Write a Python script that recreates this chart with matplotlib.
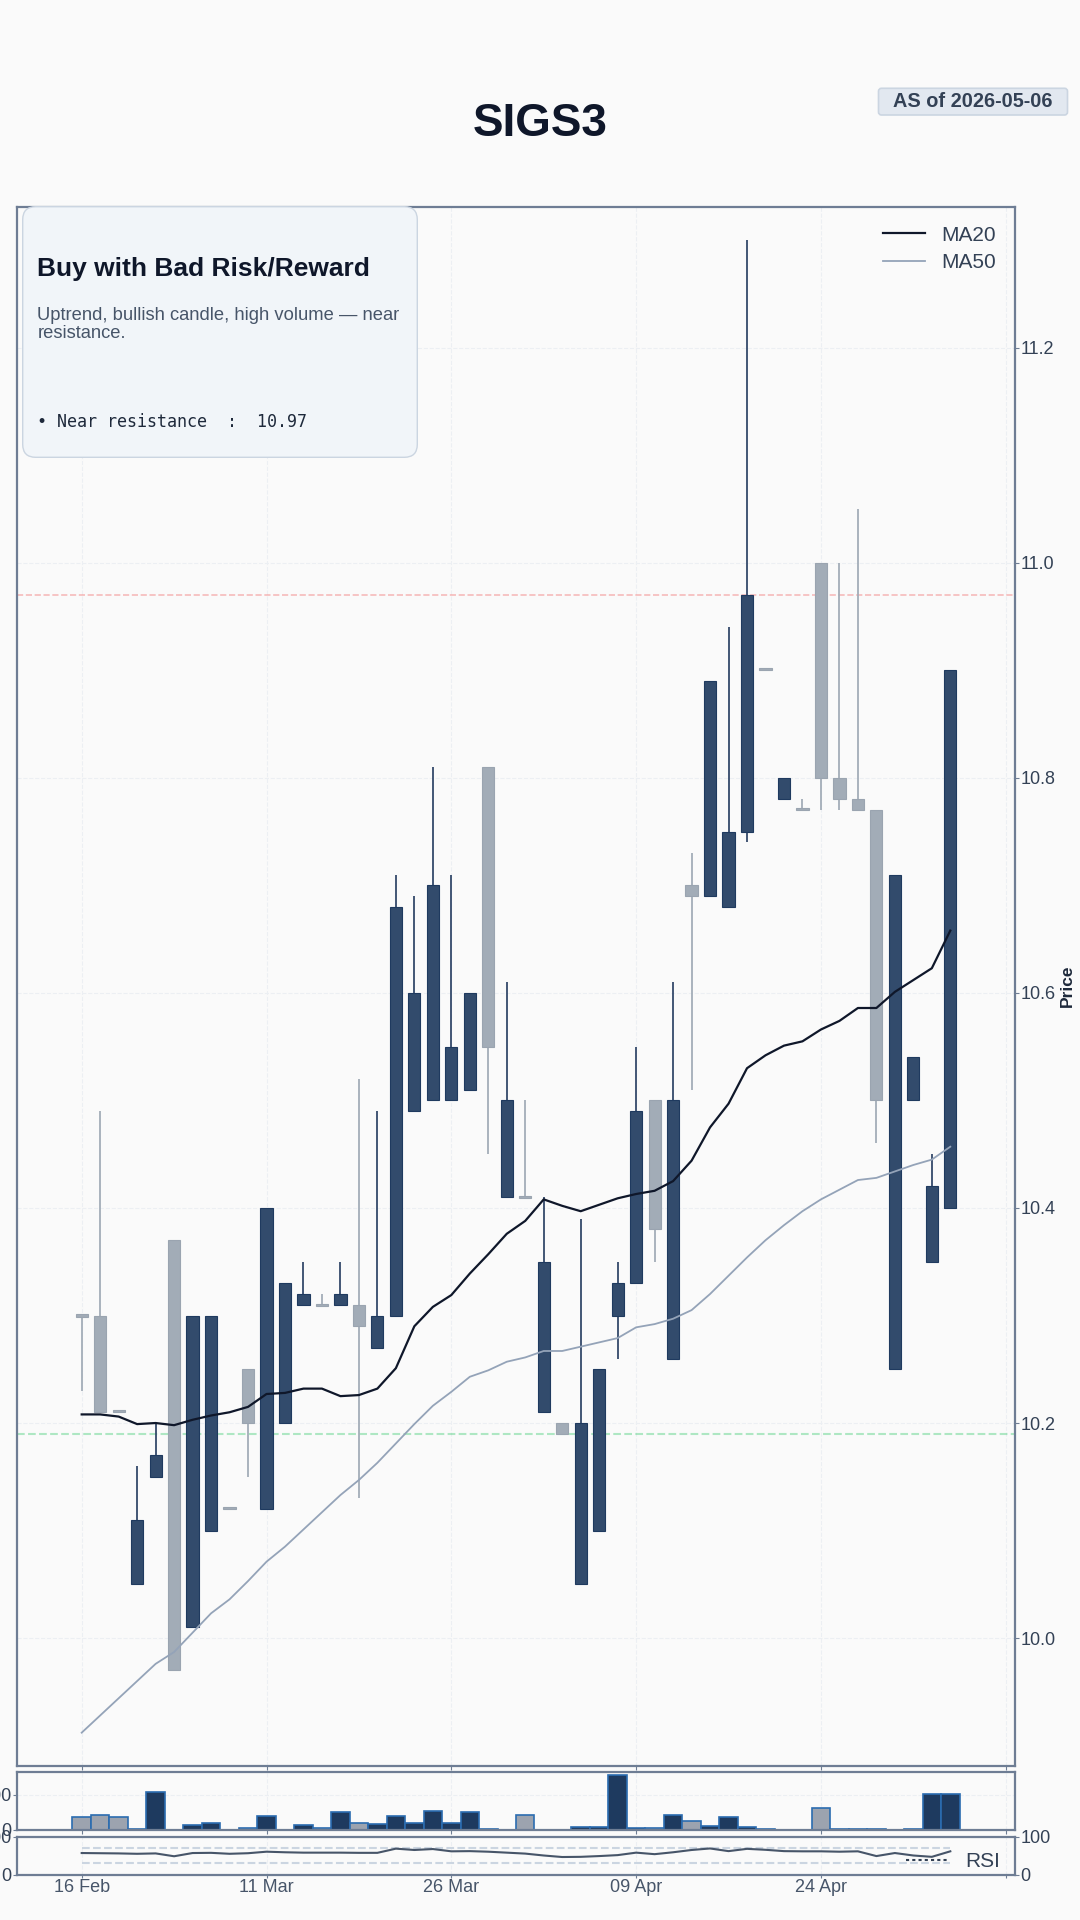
import matplotlib
matplotlib.use('Agg')
import matplotlib.pyplot as plt
from matplotlib.patches import Rectangle, FancyBboxPatch
from matplotlib.lines import Line2D
from matplotlib.transforms import IdentityTransform

plt.rcParams['font.family'] = ['Liberation Sans', 'DejaVu Sans']

# ---------------- data ----------------
ticker = 'SIGS3'
as_of = 'AS of 2026-05-06'
tick_pos = [0, 10, 20, 30, 40, 50]
tick_labels = ['16 Feb', '11 Mar', '26 Mar', '09 Apr', '24 Apr', '']

opens = [10.301, 10.30, 10.212, 10.05, 10.15, 10.37, 10.01, 10.10, 10.121, 10.25,
         10.12, 10.20, 10.31, 10.311, 10.31, 10.31, 10.27, 10.30, 10.49, 10.50,
         10.50, 10.51, 10.81, 10.41, 10.411, 10.21, 10.20, 10.05, 10.10, 10.30,
         10.33, 10.50, 10.26, 10.70, 10.69, 10.68, 10.75, 10.901, 10.78, 10.771,
         11.00, 10.80, 10.78, 10.77, 10.25, 10.50, 10.35, 10.40]
highs = [10.30, 10.49, 10.212, 10.16, 10.20, 10.37, 10.30, 10.30, 10.121, 10.25,
         10.40, 10.33, 10.35, 10.32, 10.35, 10.52, 10.49, 10.71, 10.69, 10.81,
         10.71, 10.60, 10.81, 10.61, 10.50, 10.41, 10.20, 10.39, 10.25, 10.35,
         10.55, 10.50, 10.61, 10.73, 10.89, 10.94, 11.30, 10.901, 10.80, 10.78,
         11.00, 11.00, 11.05, 10.77, 10.71, 10.54, 10.45, 10.90]
lows = [10.23, 10.21, 10.21, 10.05, 10.15, 9.97, 10.01, 10.10, 10.12, 10.15,
        10.12, 10.20, 10.31, 10.309, 10.31, 10.13, 10.27, 10.30, 10.49, 10.50,
        10.50, 10.51, 10.45, 10.41, 10.409, 10.21, 10.19, 10.05, 10.10, 10.26,
        10.33, 10.35, 10.26, 10.51, 10.69, 10.68, 10.74, 10.90, 10.78, 10.77,
        10.77, 10.77, 10.77, 10.46, 10.25, 10.50, 10.35, 10.40]
closes = [10.299, 10.21, 10.21, 10.11, 10.17, 9.97, 10.30, 10.30, 10.12, 10.20,
          10.40, 10.33, 10.32, 10.309, 10.32, 10.29, 10.30, 10.68, 10.60, 10.70,
          10.55, 10.60, 10.55, 10.50, 10.409, 10.35, 10.19, 10.20, 10.25, 10.33,
          10.49, 10.38, 10.50, 10.69, 10.89, 10.75, 10.97, 10.90, 10.80, 10.77,
          10.80, 10.78, 10.77, 10.50, 10.71, 10.54, 10.42, 10.90]
volumes = [36.6, 43.2, 36.6, 3.0, 109.5, 0, 14.4, 21.0, 0, 5.8,
           40.3, 0, 14.4, 5.8, 51.9, 21.0, 17.3, 40.3, 21.0, 54.8,
           21.0, 51.9, 3.0, 0, 43.2, 0, 0, 8.6, 8.6, 155.6,
           4.8, 4.8, 43.2, 26.0, 11.5, 37.5, 8.6, 3.0, 0, 0,
           63.4, 3.0, 3.0, 3.0, 0, 3.0, 101.7, 101.7]
ma20 = [10.208, 10.208, 10.206, 10.199, 10.200, 10.198, 10.203, 10.207, 10.210, 10.215,
        10.227, 10.228, 10.232, 10.232, 10.225, 10.226, 10.232, 10.251, 10.290, 10.308,
        10.319, 10.339, 10.357, 10.376, 10.388, 10.408, 10.402, 10.397, 10.403, 10.409,
        10.413, 10.416, 10.425, 10.444, 10.475, 10.497, 10.530, 10.542, 10.551, 10.555,
        10.566, 10.574, 10.586, 10.586, 10.601, 10.612, 10.623, 10.658]
ma50 = [9.912, 9.928, 9.944, 9.960, 9.976, 9.987, 10.005, 10.023, 10.036, 10.053,
        10.071, 10.085, 10.101, 10.117, 10.133, 10.147, 10.163, 10.181, 10.199, 10.216,
        10.229, 10.243, 10.249, 10.257, 10.261, 10.267, 10.267, 10.271, 10.275, 10.279,
        10.289, 10.292, 10.297, 10.305, 10.320, 10.337, 10.354, 10.370, 10.384, 10.397,
        10.408, 10.417, 10.426, 10.428, 10.434, 10.440, 10.445, 10.457]
rsi = [56.5, 56, 55.5, 54.5, 55.5, 48, 56.5, 57, 54.5, 56,
       60, 58.5, 57.5, 57.5, 57.5, 57, 57, 68, 64.5, 67,
       61, 61.5, 60, 57.5, 55, 50, 46, 46.5, 48.5, 51,
       57.5, 53.5, 58.5, 64.5, 68.5, 61.5, 67.5, 65, 61.5, 61,
       61, 60, 61, 48.5, 56.5, 50, 46.5, 61]
resistance = 10.97
support = 10.19
price_ticks = [10.0, 10.2, 10.4, 10.6, 10.8, 11.0, 11.2]
vol_ticks = [0, 100]
rsi_ticks = [0, 100]
rsi_levels = [70, 30]

card_title = 'Buy with Bad Risk/Reward'
card_lines = ['Uptrend, bullish candle, high volume \u2014 near', 'resistance.']
card_bullet = '\u2022 Near resistance  :  10.97'

# ---------------- styles ----------------
BG = '#fafafa'
SPINE = '#6e7d94'
UP_FC, UP_EC, UP_W = '#324b6c', '#1f3a5f', '#34496b'
DN_FC, DN_EC, DN_W = '#a2acb7', '#9aa4b0', '#a3adb8'
GRID = '#eceff3'
TXT = '#334155'

W_PX, H_PX = 1080, 1920
fig = plt.figure(figsize=(10.8, 19.2), dpi=100, facecolor=BG)

L = 17 / W_PX
WID = 998 / W_PX


def rect(top, bot):
    return [L, 1 - bot / H_PX, WID, (bot - top) / H_PX]


ax = fig.add_axes(rect(207, 1766))
axv = fig.add_axes(rect(1772, 1830), sharex=ax)
axr = fig.add_axes(rect(1836.5, 1874.5), sharex=ax)

n = len(closes)
xs = list(range(n))

for a in (ax, axv, axr):
    a.set_facecolor(BG)
    for s in a.spines.values():
        s.set_color(SPINE)
        s.set_linewidth(1.6)
    a.grid(True, color=GRID, linestyle='--', linewidth=0.8)
    a.set_axisbelow(True)
    a.tick_params(colors=SPINE, labelcolor=TXT, length=3, pad=1.0, labelsize=13)

# ---- main candles ----
bw = 0.66
for i in xs:
    o, h, l, c = opens[i], highs[i], lows[i], closes[i]
    up = c >= o
    fc, ec, wc = (UP_FC, UP_EC, UP_W) if up else (DN_FC, DN_EC, DN_W)
    ax.vlines(i, l, h, color=wc, linewidth=1.3, zorder=2)
    bot = min(o, c)
    hgt = max(abs(c - o), 0.002)
    ax.add_patch(Rectangle((i - bw / 2, bot), bw, hgt, facecolor=fc,
                           edgecolor=ec, linewidth=0.8, zorder=3))

ax.plot(xs, ma20, color='#0f172a', linewidth=1.6, label='MA20', zorder=4)
ax.plot(xs, ma50, color='#94a3b8', linewidth=1.3, label='MA50', zorder=4)
ax.axhline(resistance, color='#ef4444', alpha=0.35, linestyle='--', linewidth=1.2, zorder=1)
ax.axhline(support, color='#22c55e', alpha=0.35, linestyle='--', linewidth=1.5, zorder=1)

ax.set_xlim(-3.5, 50.5)
ax.set_ylim(9.881, 11.331)
ax.yaxis.tick_right()
ax.set_yticks(price_ticks)
ax.set_yticklabels([f'{v:.1f}' for v in price_ticks])
ax.set_xticks(tick_pos)
ax.tick_params(axis='x', labelbottom=False)
leg = ax.legend(loc='upper right', frameon=False, fontsize=15,
                handlelength=2.0, labelspacing=0.4)
for t in leg.get_texts():
    t.set_color(TXT)

# ---- volume ----
vx = [i for i in xs if volumes[i] > 0]
vv = [volumes[i] for i in vx]
vc = ['#1e3a5f' if closes[i] >= opens[i] else '#9ca3af' for i in vx]
axv.bar(vx, vv, width=1.0, color=vc, edgecolor='#2b6cb0', linewidth=1.2, zorder=2)
axv.set_ylim(0, 165)
axv.set_yticks(vol_ticks)
axv.tick_params(axis='x', labelbottom=False)

# ---- RSI ----
axr.plot(xs, rsi, color='#475569', linewidth=1.5, zorder=3)
for lv in rsi_levels:
    axr.plot([xs[0], xs[-1]], [lv, lv], color='#cbd5e1', linestyle='--', linewidth=1.5, zorder=2)
axr.set_ylim(0, 100)
axr.set_yticks(rsi_ticks)
axr.tick_params(axis='y', labelleft=True, labelright=True, right=True)
axr.set_xticks(tick_pos)
axr.set_xticklabels(tick_labels)
axr.tick_params(axis='x', labelcolor='#475569', labelsize=13, length=2.5, pad=1.0)
rleg = axr.legend(handles=[Line2D([], [], color='#334155', linestyle=(0, (1.5, 1.5)), linewidth=1.5)],
                  labels=['RSI'], loc='center right', bbox_to_anchor=(0.993, 0.34),
                  frameon=False, fontsize=15, borderaxespad=0, handlelength=2.0)
for t in rleg.get_texts():
    t.set_color(TXT)

# ---- price label ----
fig.text(1067 / W_PX, 1 - 986 / H_PX, 'Price', rotation=90, ha='center', va='center',
         fontsize=12.5, fontweight='bold', color='#1e293b')

# ---- title & badge ----
fig.text(0.5, 1 - 124.5 / H_PX, ticker, ha='center', va='center', fontsize=33,
         fontweight='bold', color='#0f172a')
badge = FancyBboxPatch((878.5, H_PX - 115), 189, 26.7,
                       boxstyle='round,pad=0,rounding_size=3',
                       facecolor='#e2e8f0', edgecolor='#cbd5e1', linewidth=1.2,
                       transform=IdentityTransform(), zorder=5)
fig.add_artist(badge)
fig.text(973 / W_PX, 1 - 101.7 / H_PX, as_of, ha='center', va='center', fontsize=14.3,
         fontweight='bold', color=TXT, zorder=6)

# ---- info card ----
card = FancyBboxPatch((22.7, H_PX - 457.3), 394.6, 250.6,
                      boxstyle='round,pad=0,rounding_size=13',
                      facecolor='#f1f5f9', edgecolor='#cbd5e1', linewidth=1.0,
                      transform=IdentityTransform(), zorder=5)
fig.add_artist(card)
fig.text(37.3 / W_PX, 1 - 276 / H_PX, card_title, ha='left', va='baseline', fontsize=19,
         fontweight='bold', color='#0f172a', zorder=6)
for k, line in enumerate(card_lines):
    fig.text(37.3 / W_PX, 1 - (320 + 18.3 * k) / H_PX, line, ha='left', va='baseline',
             fontsize=13.2, color='#475569', zorder=6)
fig.text(37.3 / W_PX, 1 - 426.7 / H_PX, card_bullet, ha='left', va='baseline',
         fontsize=12, family=['DejaVu Sans Mono', 'DejaVu Sans'], color='#1e293b', zorder=6)

fig.savefig('out.png', dpi=100, facecolor=BG)
